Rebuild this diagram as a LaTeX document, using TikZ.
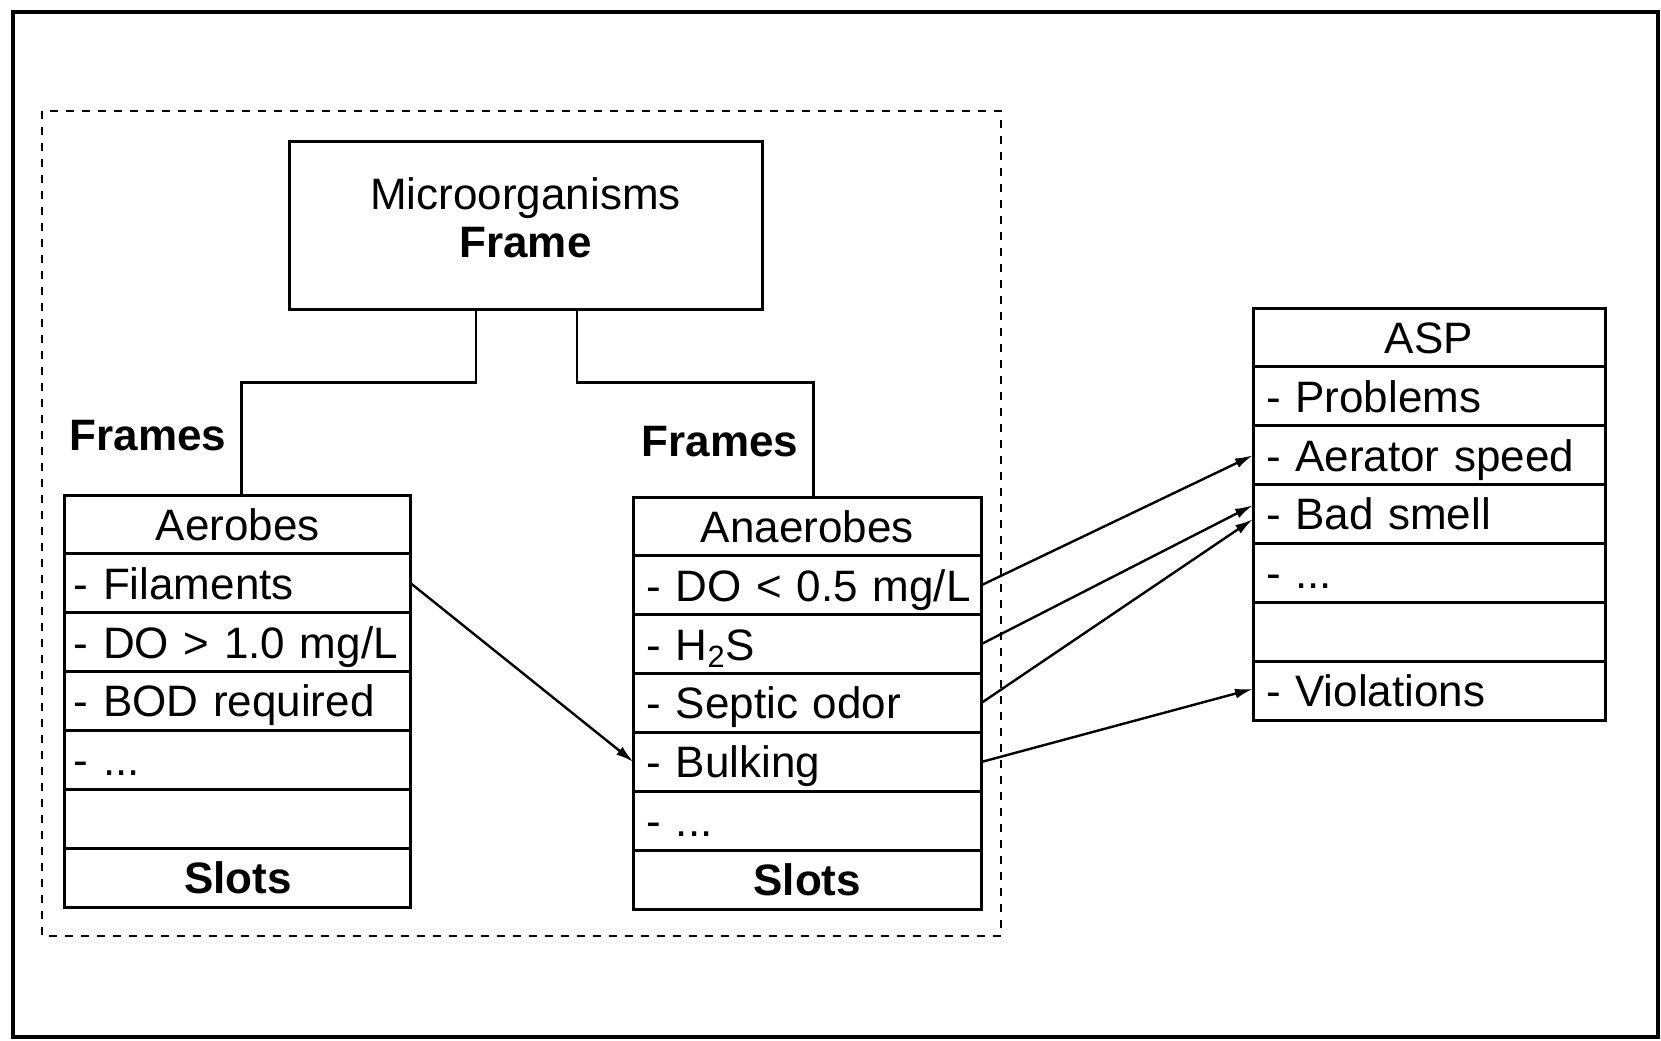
\documentclass[tikz,border=0pt]{standalone}
\usepackage{fontspec}
\setmainfont{Liberation Sans}
\usetikzlibrary{arrows.meta,calc}
\begin{document}
\begin{tikzpicture}[x=0.5pt,y=-0.5pt,
  every node/.style={font=\fontsize{22pt}{26pt}\selectfont},
  bx/.style={draw,line width=1.5pt,inner ysep=0pt,outer sep=0pt,minimum height=29.45pt,
    text height=19.6pt,text depth=3.8pt,anchor=north},
  cellA/.style={bx,inner xsep=4.5pt,text width=164pt,align=left},
  hdrA/.style={bx,inner xsep=4.5pt,text width=164pt,align=center},
  cellB/.style={bx,inner xsep=6.5pt,text width=160.75pt,align=left},
  hdrB/.style={bx,inner xsep=6.5pt,text width=160.75pt,align=center},
  cellC/.style={bx,inner xsep=6.5pt,text width=163pt,align=left},
  hdrC/.style={bx,inner xsep=6.5pt,text width=163pt,align=center},
  conn/.style={line width=1.3pt},
  arr/.style={line width=1.2pt,-{Latex[length=9pt,width=5pt]}},
  lbl/.style={font=\fontsize{22pt}{26pt}\selectfont\bfseries}
]
\useasboundingbox (0,0) rectangle (1661,1040);
% outer frame
\draw[line width=1.6pt] (13,12) rectangle (1658,1037);
% dashed group
\draw[line width=1.4pt,dash pattern=on 4pt off 4pt] (42,111) rectangle (1001,936);

% top frame
\node[draw,line width=1.5pt,minimum width=236.5pt,minimum height=84pt] (micro) at (525.5,225) {};
\node[align=center,inner sep=0pt] (microtxt) at (525.5,218) {Microorganisms\\[-2pt]\textbf{Frame}};

% Aerobes table
\node[hdrA] (aer0) at (237.8,495) {Aerobes};
\node[cellA] (aer1) at (aer0.south) {\mbox{- Filaments}};
\node[cellA] (aer2) at (aer1.south) {\mbox{- DO > 1.0 mg/L}};
\node[cellA] (aer3) at (aer2.south) {\mbox{- BOD required}};
\node[cellA] (aer4) at (aer3.south) {\mbox{- ...}};
\node[cellA] (aer5) at (aer4.south) {};
\node[hdrA] (aer6) at (aer5.south) {\textbf{Slots}};

% Anaerobes table
\node[hdrB] (ana0) at (807.3,497) {Anaerobes};
\node[cellB] (ana1) at (ana0.south) {\mbox{- DO < 0.5 mg/L}};
\node[cellB] (ana2) at (ana1.south) {\mbox{- H\textsubscript{2}S}};
\node[cellB] (ana3) at (ana2.south) {\mbox{- Septic odor}};
\node[cellB] (ana4) at (ana3.south) {\mbox{- Bulking}};
\node[cellB] (ana5) at (ana4.south) {\mbox{- ...}};
\node[hdrB] (ana6) at (ana5.south) {\textbf{Slots}};

% ASP table
\node[hdrC] (asp0) at (1429,308) {ASP};
\node[cellC] (asp1) at (asp0.south) {\mbox{- Problems}};
\node[cellC] (asp2) at (asp1.south) {\mbox{- Aerator speed}};
\node[cellC] (asp3) at (asp2.south) {\mbox{- Bad smell}};
\node[cellC] (asp4) at (asp3.south) {\mbox{- ...}};
\node[cellC] (asp5) at (asp4.south) {};
\node[cellC] (asp6) at (asp5.south) {\mbox{- Violations}};

% labels
\node[lbl] (frL) at (148,436) {Frames};
\node[lbl] (frR) at (720,442) {Frames};

% tree connectors
\draw[conn] ($(micro.south)+(-49.5,0)$) -- ++(0,72) -| ($(aer0.north)+(3.7,0)$);
\draw[conn] ($(micro.south)+(51.5,0)$) -- ++(0,72) -| ($(ana0.north)+(6.2,0)$);

% arrows
\draw[arr] (aer1.east) -- (ana4.west);
\draw[arr] (ana1.east) -- (asp2.west);
\draw[arr] (ana2.east) -- ($(asp3.west)+(0,-9)$);
\draw[arr] (ana3.east) -- ($(asp3.west)+(0,5)$);
\draw[arr] (ana4.east) -- ($(asp6.west)+(0,-2)$);
\end{tikzpicture}
\end{document}
